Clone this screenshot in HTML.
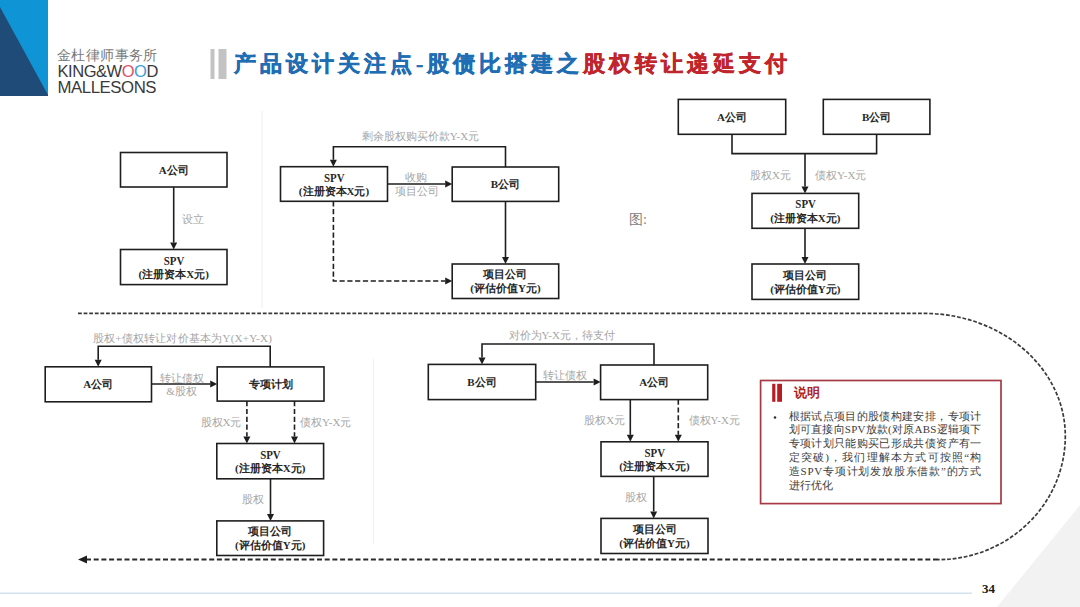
<!DOCTYPE html>
<html><head><meta charset="utf-8"><style>
html,body{margin:0;padding:0;background:#fff;}
body{width:1080px;height:607px;position:relative;overflow:hidden;}
svg{position:absolute;left:0;top:0;}
.t{position:absolute;white-space:nowrap;line-height:1;}
</style></head><body>
<svg width="1080" height="607" viewBox="0 0 1080 607">
<rect x="0" y="0" width="48" height="96" fill="#0f95d5"/>
<polygon points="0,7 48,95 48,96 0,96" fill="#1f4b78"/>
<rect x="210.5" y="49" width="4" height="30" fill="#c3c3c3"/>
<rect x="218.5" y="49" width="8" height="30" fill="#c3c3c3"/>
<line x1="262" y1="111" x2="262" y2="308" stroke="#f1f1f1" stroke-width="1.2"/>
<line x1="373.5" y1="359" x2="373.5" y2="544" stroke="#f1f1f1" stroke-width="1.2"/>
<rect x="120.5" y="152.5" width="106.50" height="34.50" fill="#fff" stroke="#1e1e1e" stroke-width="1.6"/>
<text x="173.75" y="173.75" text-anchor="middle" font-family="Liberation Serif, serif" font-weight="bold" font-size="11" fill="#262626">A公司</text>
<polyline points="173.7,187 173.7,242.5" fill="none" stroke="#1e1e1e" stroke-width="1.6"/>
<polygon points="173.70,249.50 170.20,242.50 177.20,242.50" fill="#1e1e1e"/>
<text x="182.00" y="222.70" text-anchor="start" font-family="Liberation Serif, serif" font-size="11" fill="#a6a6a6">设立</text>
<rect x="120.5" y="249.5" width="106.50" height="35.10" fill="#fff" stroke="#1e1e1e" stroke-width="1.6"/>
<text x="163.75" y="264.65" textLength="20.5" lengthAdjust="spacingAndGlyphs" font-family="Liberation Serif, serif" font-weight="bold" font-size="13" fill="#262626">SPV</text>
<text x="173.75" y="278.05" text-anchor="middle" font-family="Liberation Serif, serif" font-weight="bold" font-size="11" fill="#262626">(注册资本X元)</text>
<rect x="280.5" y="166.7" width="107.00" height="34.60" fill="#fff" stroke="#1e1e1e" stroke-width="1.6"/>
<text x="324.00" y="181.60" textLength="20.5" lengthAdjust="spacingAndGlyphs" font-family="Liberation Serif, serif" font-weight="bold" font-size="13" fill="#262626">SPV</text>
<text x="334.00" y="195.00" text-anchor="middle" font-family="Liberation Serif, serif" font-weight="bold" font-size="11" fill="#262626">(注册资本X元)</text>
<rect x="452.2" y="167" width="106.50" height="34.40" fill="#fff" stroke="#1e1e1e" stroke-width="1.6"/>
<text x="505.45" y="188.20" text-anchor="middle" font-family="Liberation Serif, serif" font-weight="bold" font-size="11" fill="#262626">B公司</text>
<rect x="452.2" y="264" width="106.50" height="34.50" fill="#fff" stroke="#1e1e1e" stroke-width="1.6"/>
<text x="505.45" y="278.25" text-anchor="middle" font-family="Liberation Serif, serif" font-weight="bold" font-size="11" fill="#262626">项目公司</text>
<text x="505.45" y="292.25" text-anchor="middle" font-family="Liberation Serif, serif" font-weight="bold" font-size="11" fill="#262626">(评估价值Y元)</text>
<polyline points="505.5,167 505.5,146.7 333.4,146.7 333.4,159.7" fill="none" stroke="#1e1e1e" stroke-width="1.6"/>
<polygon points="333.40,166.70 329.90,159.70 336.90,159.70" fill="#1e1e1e"/>
<text x="420.50" y="139.70" text-anchor="middle" font-family="Liberation Serif, serif" font-size="11" fill="#a6a6a6">剩余股权购买价款Y-X元</text>
<polyline points="387.5,184 445.2,184" fill="none" stroke="#1e1e1e" stroke-width="1.6"/>
<polygon points="452.20,184.00 445.20,180.50 445.20,187.50" fill="#1e1e1e"/>
<text x="416.00" y="181.00" text-anchor="middle" font-family="Liberation Serif, serif" font-size="11" fill="#a6a6a6">收购</text>
<text x="417.00" y="194.50" text-anchor="middle" font-family="Liberation Serif, serif" font-size="11" fill="#a6a6a6">项目公司</text>
<polyline points="505.5,201.4 505.5,257" fill="none" stroke="#1e1e1e" stroke-width="1.6"/>
<polygon points="505.50,264.00 502.00,257.00 509.00,257.00" fill="#1e1e1e"/>
<polyline points="333.4,201.3 333.4,281 445.2,281" fill="none" stroke="#1e1e1e" stroke-width="1.6" stroke-dasharray="5.2,2.6"/>
<polygon points="452.20,281.00 445.20,277.50 445.20,284.50" fill="#1e1e1e"/>
<rect x="678.3" y="99.4" width="107.40" height="34.90" fill="#fff" stroke="#1e1e1e" stroke-width="1.6"/>
<text x="732.00" y="120.85" text-anchor="middle" font-family="Liberation Serif, serif" font-weight="bold" font-size="11" fill="#262626">A公司</text>
<rect x="823.3" y="99.4" width="106.60" height="34.90" fill="#fff" stroke="#1e1e1e" stroke-width="1.6"/>
<text x="876.60" y="120.85" text-anchor="middle" font-family="Liberation Serif, serif" font-weight="bold" font-size="11" fill="#262626">B公司</text>
<polyline points="732,134.3 732,153.6 876.6,153.6 876.6,134.3" fill="none" stroke="#1e1e1e" stroke-width="1.6"/>
<polyline points="805,153.6 805,186.4" fill="none" stroke="#1e1e1e" stroke-width="1.6"/>
<polygon points="805.00,193.40 801.50,186.40 808.50,186.40" fill="#1e1e1e"/>
<text x="750.00" y="179.40" text-anchor="start" font-family="Liberation Serif, serif" font-size="11" fill="#a6a6a6">股权X元</text>
<text x="815.00" y="179.40" text-anchor="start" font-family="Liberation Serif, serif" font-size="11" fill="#a6a6a6">债权Y-X元</text>
<rect x="752" y="193.4" width="106.70" height="34.90" fill="#fff" stroke="#1e1e1e" stroke-width="1.6"/>
<text x="795.35" y="208.45" textLength="20.5" lengthAdjust="spacingAndGlyphs" font-family="Liberation Serif, serif" font-weight="bold" font-size="13" fill="#262626">SPV</text>
<text x="805.35" y="221.85" text-anchor="middle" font-family="Liberation Serif, serif" font-weight="bold" font-size="11" fill="#262626">(注册资本X元)</text>
<polyline points="805,228.3 805,257" fill="none" stroke="#1e1e1e" stroke-width="1.6"/>
<polygon points="805.00,264.00 801.50,257.00 808.50,257.00" fill="#1e1e1e"/>
<rect x="752" y="264" width="106.70" height="35.40" fill="#fff" stroke="#1e1e1e" stroke-width="1.6"/>
<text x="805.35" y="278.70" text-anchor="middle" font-family="Liberation Serif, serif" font-weight="bold" font-size="11" fill="#262626">项目公司</text>
<text x="805.35" y="292.70" text-anchor="middle" font-family="Liberation Serif, serif" font-weight="bold" font-size="11" fill="#262626">(评估价值Y元)</text>
<text x="629.00" y="224.30" text-anchor="start" font-family="Liberation Serif, serif" font-size="14" fill="#808080">图:</text>
<path d="M78,313.4 H924 C1002,313.4 1065.3,368.3 1065.3,436 C1065.3,504.3 1008.3,559.6 938,559.6" fill="none" stroke="#3a3a3a" stroke-width="1.7" stroke-dasharray="3.8,1.8"/>
<path d="M938,559.6 H87" fill="none" stroke="#2a2a2a" stroke-width="2" stroke-dasharray="5,2.7"/>
<polygon points="78.00,559.60 87.00,555.60 87.00,563.60" fill="#1e1e1e"/>
<rect x="45.2" y="366.8" width="106.30" height="35.00" fill="#fff" stroke="#1e1e1e" stroke-width="1.6"/>
<text x="98.35" y="388.30" text-anchor="middle" font-family="Liberation Serif, serif" font-weight="bold" font-size="11" fill="#262626">A公司</text>
<rect x="217.2" y="366.9" width="106.80" height="34.20" fill="#fff" stroke="#1e1e1e" stroke-width="1.6"/>
<text x="270.60" y="388.00" text-anchor="middle" font-family="Liberation Serif, serif" font-weight="bold" font-size="11" fill="#262626">专项计划</text>
<polyline points="270.2,366.9 270.2,346.2 98.2,346.2 98.2,359.8" fill="none" stroke="#1e1e1e" stroke-width="1.6"/>
<polygon points="98.20,366.80 94.70,359.80 101.70,359.80" fill="#1e1e1e"/>
<text x="92.8" y="341.5" textLength="179" lengthAdjust="spacing" font-family="Liberation Serif, serif" font-size="11" fill="#a6a6a6">股权+债权转让对价基本为Y(X+Y-X)</text>
<polyline points="151.5,384 210.2,384" fill="none" stroke="#1e1e1e" stroke-width="1.6"/>
<polygon points="217.20,384.00 210.20,380.50 210.20,387.50" fill="#1e1e1e"/>
<text x="181.50" y="381.50" text-anchor="middle" font-family="Liberation Serif, serif" font-size="11" fill="#a6a6a6">转让债权</text>
<text x="181.50" y="395.30" text-anchor="middle" font-family="Liberation Serif, serif" font-size="11" fill="#a6a6a6">&amp;股权</text>
<polyline points="246.9,401.1 246.9,436.5" fill="none" stroke="#1e1e1e" stroke-width="1.6" stroke-dasharray="5.2,2.6"/>
<polygon points="246.90,443.50 243.40,436.50 250.40,436.50" fill="#1e1e1e"/>
<polyline points="294.5,401.1 294.5,436.5" fill="none" stroke="#1e1e1e" stroke-width="1.6" stroke-dasharray="5.2,2.6"/>
<polygon points="294.50,443.50 291.00,436.50 298.00,436.50" fill="#1e1e1e"/>
<text x="241.50" y="425.90" text-anchor="end" font-family="Liberation Serif, serif" font-size="11" fill="#a6a6a6">股权X元</text>
<text x="300.00" y="425.90" text-anchor="start" font-family="Liberation Serif, serif" font-size="11" fill="#a6a6a6">债权Y-X元</text>
<rect x="216.8" y="443.5" width="106.80" height="35.30" fill="#fff" stroke="#1e1e1e" stroke-width="1.6"/>
<text x="260.20" y="458.75" textLength="20.5" lengthAdjust="spacingAndGlyphs" font-family="Liberation Serif, serif" font-weight="bold" font-size="13" fill="#262626">SPV</text>
<text x="270.20" y="472.15" text-anchor="middle" font-family="Liberation Serif, serif" font-weight="bold" font-size="11" fill="#262626">(注册资本X元)</text>
<polyline points="270.5,478.8 270.5,513.9" fill="none" stroke="#1e1e1e" stroke-width="1.6"/>
<polygon points="270.50,520.90 267.00,513.90 274.00,513.90" fill="#1e1e1e"/>
<text x="252.70" y="503.00" text-anchor="middle" font-family="Liberation Serif, serif" font-size="11" fill="#a6a6a6">股权</text>
<rect x="216.8" y="520.9" width="106.80" height="34.60" fill="#fff" stroke="#1e1e1e" stroke-width="1.6"/>
<text x="270.20" y="535.20" text-anchor="middle" font-family="Liberation Serif, serif" font-weight="bold" font-size="11" fill="#262626">项目公司</text>
<text x="270.20" y="549.20" text-anchor="middle" font-family="Liberation Serif, serif" font-weight="bold" font-size="11" fill="#262626">(评估价值Y元)</text>
<rect x="428.3" y="364.4" width="107.40" height="35.20" fill="#fff" stroke="#1e1e1e" stroke-width="1.6"/>
<text x="482.00" y="386.00" text-anchor="middle" font-family="Liberation Serif, serif" font-weight="bold" font-size="11" fill="#262626">B公司</text>
<rect x="600.6" y="365" width="107.10" height="34.60" fill="#fff" stroke="#1e1e1e" stroke-width="1.6"/>
<text x="654.15" y="386.30" text-anchor="middle" font-family="Liberation Serif, serif" font-weight="bold" font-size="11" fill="#262626">A公司</text>
<polyline points="654,365 654,344 482,344 482,357.4" fill="none" stroke="#1e1e1e" stroke-width="1.6"/>
<polygon points="482.00,364.40 478.50,357.40 485.50,357.40" fill="#1e1e1e"/>
<text x="508.50" y="339.20" text-anchor="start" font-family="Liberation Serif, serif" font-size="11" fill="#a6a6a6">对价为Y-X元，待支付</text>
<polyline points="535.7,382 593.6,382" fill="none" stroke="#1e1e1e" stroke-width="1.6"/>
<polygon points="600.60,382.00 593.60,378.50 593.60,385.50" fill="#1e1e1e"/>
<text x="565.30" y="378.60" text-anchor="middle" font-family="Liberation Serif, serif" font-size="11" fill="#a6a6a6">转让债权</text>
<polyline points="630.3,399.6 630.3,434.8" fill="none" stroke="#1e1e1e" stroke-width="1.6"/>
<polygon points="630.30,441.80 626.80,434.80 633.80,434.80" fill="#1e1e1e"/>
<polyline points="678.3,399.6 678.3,434.8" fill="none" stroke="#1e1e1e" stroke-width="1.6" stroke-dasharray="5.2,2.6"/>
<polygon points="678.30,441.80 674.80,434.80 681.80,434.80" fill="#1e1e1e"/>
<text x="625.30" y="423.80" text-anchor="end" font-family="Liberation Serif, serif" font-size="11" fill="#a6a6a6">股权X元</text>
<text x="688.60" y="423.80" text-anchor="start" font-family="Liberation Serif, serif" font-size="11" fill="#a6a6a6">债权Y-X元</text>
<rect x="601" y="441.8" width="107.00" height="34.60" fill="#fff" stroke="#1e1e1e" stroke-width="1.6"/>
<text x="644.50" y="456.70" textLength="20.5" lengthAdjust="spacingAndGlyphs" font-family="Liberation Serif, serif" font-weight="bold" font-size="13" fill="#262626">SPV</text>
<text x="654.50" y="470.10" text-anchor="middle" font-family="Liberation Serif, serif" font-weight="bold" font-size="11" fill="#262626">(注册资本X元)</text>
<polyline points="653.7,476.4 653.7,511.4" fill="none" stroke="#1e1e1e" stroke-width="1.6"/>
<polygon points="653.70,518.40 650.20,511.40 657.20,511.40" fill="#1e1e1e"/>
<text x="636.40" y="501.20" text-anchor="middle" font-family="Liberation Serif, serif" font-size="11" fill="#a6a6a6">股权</text>
<rect x="601" y="518.4" width="107.00" height="35.10" fill="#fff" stroke="#1e1e1e" stroke-width="1.6"/>
<text x="654.50" y="532.95" text-anchor="middle" font-family="Liberation Serif, serif" font-weight="bold" font-size="11" fill="#262626">项目公司</text>
<text x="654.50" y="546.95" text-anchor="middle" font-family="Liberation Serif, serif" font-weight="bold" font-size="11" fill="#262626">(评估价值Y元)</text>
<rect x="760.6" y="380.5" width="240.40" height="123.10" fill="#fff" stroke="#a63a44" stroke-width="1.7"/>
<rect x="772.2" y="383.8" width="3.2" height="18" fill="#b81c22"/>
<rect x="777.2" y="383.8" width="4.8" height="18" fill="#b81c22"/>
<text x="793.5" y="397" font-family="Liberation Serif, serif" font-weight="bold" font-size="13" fill="#b01e24">说明</text>
<circle cx="775" cy="417.5" r="1.3" fill="#333"/>
<text x="788.7" y="419.50" textLength="192.5" lengthAdjust="spacing" font-family="Liberation Serif, serif" font-size="11" fill="#3c3c3c">根据试点项目的股债构建安排，专项计</text>
<text x="788.7" y="433.30" textLength="192.5" lengthAdjust="spacing" font-family="Liberation Serif, serif" font-size="11" fill="#3c3c3c">划可直接向SPV放款(对原ABS逻辑项下</text>
<text x="788.7" y="447.10" textLength="192.5" lengthAdjust="spacing" font-family="Liberation Serif, serif" font-size="11" fill="#3c3c3c">专项计划只能购买已形成共债资产有一</text>
<text x="788.7" y="460.90" textLength="192.5" lengthAdjust="spacing" font-family="Liberation Serif, serif" font-size="11" fill="#3c3c3c">定突破)，我们理解本方式可按照“构</text>
<text x="788.7" y="474.70" textLength="192.5" lengthAdjust="spacing" font-family="Liberation Serif, serif" font-size="11" fill="#3c3c3c">造SPV专项计划发放股东借款”的方式</text>
<text x="788.7" y="488.50" font-family="Liberation Serif, serif" font-size="11" fill="#3c3c3c">进行优化</text>
<rect x="0" y="592.5" width="972" height="1.5" fill="#d5e3ee"/>
<polygon points="997,607 1080,505 1080,607" fill="#f2f2f2"/>
<text x="982" y="592.6" font-family="Liberation Serif, serif" font-weight="bold" font-size="13" fill="#1a1a1a">34</text>
</svg>
<div class="t" style="left:57px;top:48px;font-family:'Liberation Sans',sans-serif;font-size:14px;color:#7a7a7a;letter-spacing:0.4px">金杜律师事务所</div>
<div class="t" style="left:57.5px;top:63px;font-family:'Liberation Sans',sans-serif;font-size:16.5px;letter-spacing:-0.45px;color:#3a3a3a;">KING&amp;W<span style="color:#e0506a">O</span><span style="color:#3aa0dc">O</span>D</div>
<div class="t" style="left:57.5px;top:80px;font-family:'Liberation Sans',sans-serif;font-size:16.8px;letter-spacing:-0.45px;color:#3a3a3a;">MALLESONS</div>
<div class="t" style="left:234px;top:53px;font-family:'Liberation Serif',serif;font-weight:900;font-size:22px;letter-spacing:4px;color:#1f6db3;-webkit-text-stroke:0.5px currentColor">产品设计关注点-股债比搭建之<span style="color:#c0252b">股权转让递延支付</span></div>
</body></html>
